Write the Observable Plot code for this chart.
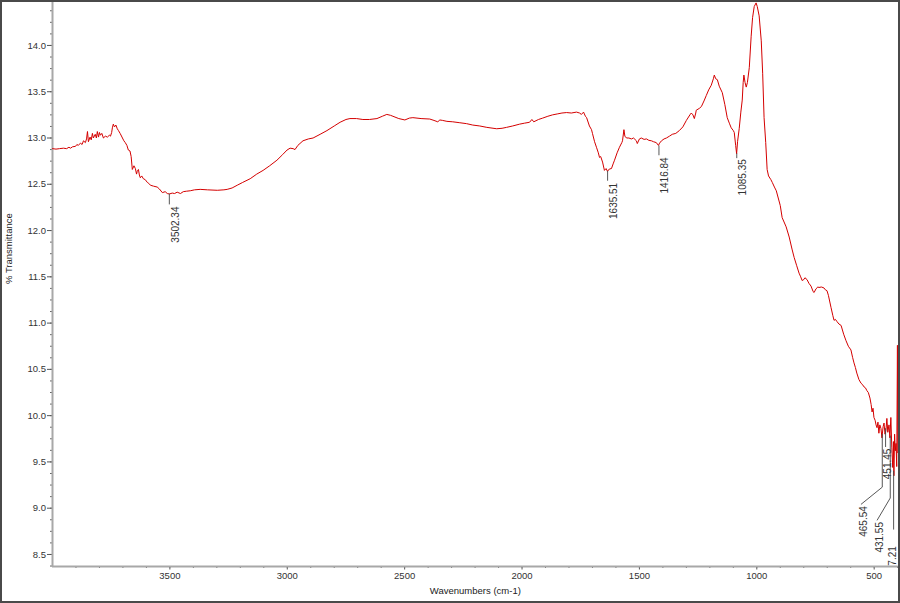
<!DOCTYPE html>
<html>
<head>
<meta charset="utf-8">
<script src="https://cdn.jsdelivr.net/npm/d3@7"></script>
<script src="https://cdn.jsdelivr.net/npm/@observablehq/plot@0.6"></script>
<style>
  html, body { margin: 0; padding: 0; background: #fff; }
  #wrap { position: relative; width: 900px; height: 603px; overflow: hidden; }
  #border { position: absolute; left: 0; top: 0; width: 900px; height: 603px; box-sizing: border-box; border: 2px solid #4a4a4a; pointer-events: none; }
</style>
</head>
<body>
<div id="wrap"><div id="border"></div></div>
<script>
// Wavenumbers (cm-1), descending
const wavenumbers = [
  4000,3985,3970,3953,3940,3930,3923,3915,3902,3896,3890,3881,3874,3868,3860,3855,3851,3847,3840,3835,
  3830,3826,3818,3813,3809,3804,3800,3796,3790,3783,3775,3766,3758,3753,3748,3745,3741,3736,3730,3724,
  3719,3712,3702,3696,3690,3683,3677,3670,3665,3660,3653,3647,3642,3639,3634,3630,3626,3620,3613,3605,
  3596,3590,3583,3570,3554,3545,3532,3520,3511,3502,3490,3480,3469,3455,3443,3430,3413,3395,3371,3340,
  3298,3270,3256,3235,3213,3190,3158,3130,3103,3075,3044,3020,3001,2988,2975,2967,2955,2933,2910,2890,
  2860,2831,2800,2775,2750,2733,2705,2678,2650,2618,2595,2576,2560,2550,2525,2499,2480,2465,2430,2393,
  2375,2359,2350,2338,2320,2295,2265,2236,2210,2180,2150,2108,2085,2066,2040,2010,1990,1968,1958,1950,
  1930,1912,1890,1870,1850,1830,1810,1790,1768,1755,1747,1738,1730,1725,1713,1704,1700,1691,1683,1675,
  1670,1665,1657,1649,1642,1636,1628,1619,1612,1606,1595,1585,1575,1572,1566,1562,1555,1545,1534,1525,
  1513,1509,1500,1492,1480,1470,1460,1449,1440,1428,1419,1414,1406,1395,1385,1372,1360,1345,1330,1315,
  1300,1285,1279,1272,1266,1260,1258,1245,1236,1225,1215,1205,1194,1185,1181,1175,1168,1160,1147,1136,
  1126,1117,1109,1100,1096,1090,1086,1082,1075,1068,1062,1058,1055,1050,1045,1040,1032,1024,1018,1011,
  1003,998,990,981,975,969,962,956,950,940,934,925,917,900,892,875,862,850,841,830,
  820,813,807,800,795,786,778,769,760,756,748,740,735,725,714,708,701,695,684,676,
  671,665,658,650,641,630,620,610,599,592,586,580,574,565,556,548,543,537,531,525,
  518,513,509,505,501,496,492,488,484,480,476,471,467,462,458,454,450,446,442,437,
  433,429,425,421,418,416,413,410,407,404,401,399.5
];
// % Transmittance
const transmittance = [
  12.885,12.88,12.885,12.89,12.885,12.90,12.89,12.905,12.91,12.93,12.92,12.945,12.93,12.97,12.95,12.99,13.07,12.96,13.01,12.98,
  13.05,13.00,13.04,13.00,13.07,13.01,13.06,13.03,13.05,13.00,13.02,13.01,13.03,13.02,13.06,13.11,13.15,13.12,13.14,13.10,
  13.08,13.05,13.00,12.97,12.95,12.92,12.87,12.86,12.80,12.66,12.70,12.67,12.61,12.64,12.66,12.60,12.57,12.59,12.56,12.55,
  12.52,12.51,12.49,12.48,12.47,12.45,12.41,12.42,12.40,12.395,12.405,12.40,12.415,12.40,12.42,12.425,12.43,12.44,12.445,12.44,
  12.435,12.44,12.445,12.46,12.49,12.52,12.56,12.61,12.65,12.70,12.76,12.82,12.87,12.89,12.885,12.875,12.92,12.97,12.99,13.00,
  13.04,13.08,13.13,13.17,13.20,13.21,13.21,13.20,13.20,13.21,13.235,13.255,13.245,13.235,13.21,13.195,13.215,13.22,13.21,13.205,
  13.19,13.175,13.195,13.19,13.18,13.175,13.165,13.155,13.14,13.13,13.115,13.10,13.105,13.115,13.13,13.15,13.16,13.17,13.20,13.175,
  13.20,13.215,13.235,13.25,13.26,13.27,13.275,13.27,13.28,13.27,13.255,13.28,13.235,13.22,13.13,13.09,13.05,12.96,12.90,12.84,
  12.79,12.80,12.74,12.65,12.67,12.64,12.665,12.67,12.72,12.76,12.84,12.90,12.95,12.97,13.09,13.02,13.00,13.00,12.99,13.00,
  12.97,12.94,12.99,13.00,12.985,12.99,12.975,12.97,12.96,12.95,12.92,12.945,12.97,12.99,13.00,13.02,13.04,13.05,13.08,13.12,
  13.19,13.25,13.27,13.25,13.21,13.27,13.30,13.32,13.34,13.40,13.46,13.52,13.57,13.64,13.68,13.64,13.63,13.56,13.49,13.36,
  13.22,13.16,13.11,13.08,13.06,12.92,12.83,12.96,13.10,13.28,13.41,13.60,13.68,13.60,13.55,13.60,13.76,14.10,14.30,14.42,
  14.46,14.42,14.32,14.05,13.70,13.22,12.95,12.66,12.59,12.55,12.52,12.47,12.43,12.27,12.14,12.04,11.93,11.80,11.71,11.62,
  11.54,11.50,11.46,11.47,11.49,11.47,11.43,11.40,11.34,11.33,11.37,11.39,11.385,11.39,11.38,11.36,11.35,11.30,11.17,11.08,
  11.03,11.04,11.015,10.99,10.975,10.88,10.81,10.75,10.71,10.63,10.57,10.52,10.46,10.39,10.35,10.33,10.31,10.30,10.27,10.25,
  10.19,10.12,10.04,10.08,9.98,9.95,9.90,9.87,9.93,9.81,9.90,9.86,9.76,9.88,9.92,9.80,9.84,9.97,9.82,9.90,
  9.76,9.98,9.66,9.44,9.72,9.35,9.80,9.62,9.70,9.45,10.76,9.60
];

// Peak annotations
const peakWn = [3502.34, 1635.51, 1416.84, 1085.35, 465.54, 451.45, 431.55, 417.21];
const peakT = [12.395, 12.64, 12.915, 12.83, 9.80, 9.86, 9.78, 9.40];
const peakText = ["3502.34", "1635.51", "1416.84", "1085.35", "465.54", "451.45", "431.55", "417.21"];

// Axis ticks
const xTicks = [3500, 3000, 2500, 2000, 1500, 1000, 500];
const yTicks = [8.5, 9.0, 9.5, 10.0, 10.5, 11.0, 11.5, 12.0, 12.5, 13.0, 13.5, 14.0];

// Leader layout (pixels): vertical drop, then optional diagonal, text offset
const leaderLayout = [
  {down: 10, sx: 0, sy: 0, tx: 6, ty: 2.5},
  {down: 9, sx: 0, sy: 0, tx: 6, ty: 2.5},
  {down: 9, sx: 0, sy: 0, tx: 6, ty: 2.5},
  {down: 4, sx: 0, sy: 0, tx: 6, ty: 1.5},
  {down: 53, sx: -21, sy: 17, tx: 2.5, ty: 2},
  {down: 18, sx: 0, sy: 0, tx: 2.5, ty: 2},
  {down: 62, sx: -13, sy: 22, tx: 3, ty: 2},
  {down: 58, sx: 0, sy: 0, tx: -1, ty: 17}
];

const spectrum = wavenumbers.map((wn, i) => ({wn, t: transmittance[i]}));
const peaks = peakWn.map((wn, i) => ({wn, t: peakT[i], text: peakText[i]}));

const xDomain = [4000, 397.7];
const yDomain = [8.37, 14.475];
const xMinor = d3.range(400, 4000, 100);
const yMinor = d3.range(67, 116).map(k => k * 0.125);

const labelMarks = peaks.flatMap((p, i) => {
  const L = leaderLayout[i];
  const shape = {
    draw(ctx) {
      ctx.moveTo(0, 0);
      ctx.lineTo(0, L.down);
      if (L.sx || L.sy) ctx.lineTo(L.sx, L.down + L.sy);
    }
  };
  return [
    Plot.vector([p], {x: "wn", y: "t", length: 1, anchor: "start", shape, stroke: "#444", fill: "none", strokeWidth: 0.9}),
    Plot.text([p], {
      x: "wn", y: "t", text: "text", rotate: -90, textAnchor: "end", lineAnchor: "middle",
      dx: L.sx + L.tx, dy: L.down + L.sy + L.ty, fontSize: 10, fill: "#333", clip: true
    })
  ];
});

const chart = Plot.plot({
  width: 900,
  height: 603,
  marginLeft: 52,
  marginRight: 2.3,
  marginTop: 1,
  marginBottom: 37,
  style: {fontFamily: "'Liberation Sans', Arial, sans-serif", fontSize: "9.5px", background: "transparent", color: "#333"},
  x: {domain: xDomain, label: null},
  y: {domain: yDomain, label: null},
  marks: [
    Plot.axisX({ticks: xMinor, tickSize: 2, text: null, stroke: "#666", label: null}),
    Plot.axisX({ticks: xTicks, tickSize: 3.5, tickPadding: 2, tickFormat: d3.format("d"), stroke: "#555", fill: "#333", fontSize: 9.5, label: null}),
    Plot.axisY({ticks: yMinor, tickSize: 2, text: null, stroke: "#666", label: null}),
    Plot.axisY({ticks: yTicks, tickSize: 5, tickPadding: 1.5, tickFormat: d3.format(".1f"), stroke: "#555", fill: "#333", fontSize: 9.5, label: null}),
    Plot.ruleX([xDomain[0]], {stroke: "#a8a8a8", strokeWidth: 2}),
    Plot.ruleY([yDomain[0]], {stroke: "#a8a8a8", strokeWidth: 2}),
    Plot.line(spectrum, {x: "wn", y: "t", stroke: "#d40000", strokeWidth: 1}),
    ...labelMarks,
    Plot.text(["Wavenumbers (cm-1)"], {frameAnchor: "bottom", text: d => d, dy: 27, fill: "#222", fontSize: 9.5}),
    Plot.text(["% Transmittance"], {frameAnchor: "left", text: d => d, rotate: -90, dx: -44, fill: "#222", fontSize: 9.5})
  ]
});
document.getElementById("wrap").insertBefore(chart, document.getElementById("border"));
</script>
</body>
</html>
